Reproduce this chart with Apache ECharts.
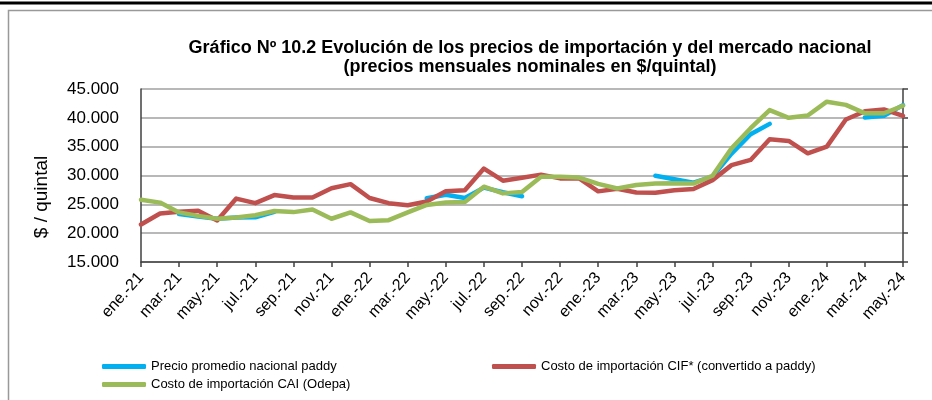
<!DOCTYPE html>
<html>
<head>
<meta charset="utf-8">
<script src="https://cdn.jsdelivr.net/npm/echarts@6/dist/echarts.min.js"></script>
<style>
  html, body { margin: 0; padding: 0; background: #fff; }
  #chart { width: 932px; height: 400px; }
</style>
</head>
<body>
<div id="chart"></div>
<script>
// Monthly periods, ene-21 .. may-24
const months = [
  'ene.-21','feb.-21','mar.-21','abr.-21','may.-21','jun.-21','jul.-21','ago.-21','sep.-21','oct.-21','nov.-21','dic.-21',
  'ene.-22','feb.-22','mar.-22','abr.-22','may.-22','jun.-22','jul.-22','ago.-22','sep.-22','oct.-22','nov.-22','dic.-22',
  'ene.-23','feb.-23','mar.-23','abr.-23','may.-23','jun.-23','jul.-23','ago.-23','sep.-23','oct.-23','nov.-23','dic.-23',
  'ene.-24','feb.-24','mar.-24','abr.-24','may.-24'
];

// Precio promedio nacional paddy ($/qq); gaps where no price is reported
const precioPaddy = [
  null, null, 23300, 22900, 22500, 22700, 22750, 23700, null, null, null, null,
  null, null, null, 26050, 26650, 26100, 27900, 27100, 26400, null, null, null,
  null, null, null, 29950, 29350, 28750, 29800, 33800, 37150, 38950, null, null,
  null, null, 40050, 40350, 42200
];

// Costo de importación CIF* (convertido a paddy)
const costoCIF = [
  21500, 23400, 23700, 23900, 22200, 26000, 25200, 26600, 26200, 26200, 27800, 28500,
  26100, 25200, 24850, 25500, 27250, 27450, 31200, 29100, 29600, 30150, 29500, 29500,
  27250, 27700, 27050, 27000, 27450, 27650, 29200, 31800, 32700, 36300, 36000, 33850,
  35000, 39700, 41150, 41450, 40350
];

// Costo de importación CAI (Odepa)
const costoCAI = [
  25800, 25300, 23600, 23000, 22500, 22700, 23100, 23850, 23650, 24100, 22500, 23600,
  22100, 22250, 23600, 24900, 25300, 25400, 28050, 26900, 27150, 29800, 29800, 29650,
  28550, 27750, 28350, 28600, 28650, 28600, 29950, 34700, 38200, 41350, 40000, 40400,
  42800, 42250, 40800, 40800, 42100
];

const seriesNames = [
  'Precio promedio nacional paddy',
  'Costo de importación CIF* (convertido a paddy)',
  'Costo de importación CAI (Odepa)'
];
const yTicks = { min: 15000, max: 45000, step: 5000 };

const colors = ['#00B0F0', '#C0504D', '#9BBB59'];
const font = 'Arial, "Liberation Sans", sans-serif';

function fmtMiles(v) {
  return String(v).replace(/\B(?=(\d{3})+(?!\d))/g, '.');
}

const chart = echarts.init(document.getElementById('chart'), null, { renderer: 'canvas' });

const lineSeries = [precioPaddy, costoCIF, costoCAI].map((data, i) => ({
  name: seriesNames[i],
  type: 'line',
  data: data,
  symbol: 'none',
  connectNulls: false,
  lineStyle: { color: colors[i], width: 4.5, cap: 'round', join: 'round' },
  itemStyle: { color: colors[i] },
  z: 2 + i
}));

const legendText = { fontSize: 13, color: '#000', fontFamily: font };

chart.setOption({
  animation: false,
  textStyle: { fontFamily: font },
  title: {
    text: 'Gráfico Nº 10.2 Evolución de los precios de importación y del mercado nacional\n(precios mensuales nominales en $/quintal)',
    left: 525,
    textAlign: 'center',
    top: 34,
    textStyle: { fontSize: 18, fontWeight: 'bold', color: '#000', lineHeight: 19, fontFamily: font }
  },
  graphic: [
    { type: 'line', shape: { x1: 0, y1: 3, x2: 932, y2: 3 }, style: { stroke: '#000', lineWidth: 3 } },
    { type: 'polyline', shape: { points: [[8.5, 400], [8.5, 10.5], [932, 10.5]] }, style: { stroke: '#999', lineWidth: 1.5, fill: null } },
    {
      type: 'text',
      x: 42, y: 197,
      rotation: Math.PI / 2,
      style: { text: '$ / quintal', fontSize: 19, fontFamily: font, fill: '#000', align: 'center', verticalAlign: 'middle' }
    }
  ],
  legend: [
    {
      data: [seriesNames[0], seriesNames[2]],
      orient: 'vertical',
      left: 97,
      top: 355,
      itemGap: 5,
      itemWidth: 44,
      itemHeight: 5,
      icon: 'roundRect',
      textStyle: legendText
    },
    {
      data: [seriesNames[1]],
      orient: 'vertical',
      left: 487,
      top: 355,
      itemWidth: 44,
      itemHeight: 5,
      icon: 'roundRect',
      textStyle: legendText
    }
  ],
  grid: { left: 141, right: 29, top: 89, bottom: 138, containLabel: false },
  xAxis: {
    type: 'category',
    data: months,
    boundaryGap: false,
    axisLine: { lineStyle: { color: '#404040', width: 1.5 } },
    axisTick: { interval: 1, length: 5, lineStyle: { color: '#404040', width: 1.5 } },
    axisLabel: {
      interval: 1,
      rotate: 48,
      fontSize: 16,
      color: '#000',
      margin: 13
    },
    splitLine: { show: false }
  },
  yAxis: [
    {
      type: 'value',
      min: yTicks.min,
      max: yTicks.max,
      interval: yTicks.step,
      axisLine: { show: true, lineStyle: { color: '#404040', width: 1.5 } },
      axisTick: { show: false },
      axisLabel: { fontSize: 17, color: '#000', margin: 22, formatter: fmtMiles },
      splitLine: { lineStyle: { color: '#A0A0A0', width: 1.5 } }
    },
    {
      type: 'value',
      min: yTicks.min,
      max: yTicks.max,
      interval: yTicks.step,
      position: 'right',
      axisLine: { show: true, lineStyle: { color: '#404040', width: 1.5 } },
      axisTick: { show: true, inside: false, length: 5, lineStyle: { color: '#404040', width: 1.5 } },
      axisLabel: { show: false },
      splitLine: { show: false }
    }
  ],
  series: lineSeries
});
</script>
</body>
</html>
